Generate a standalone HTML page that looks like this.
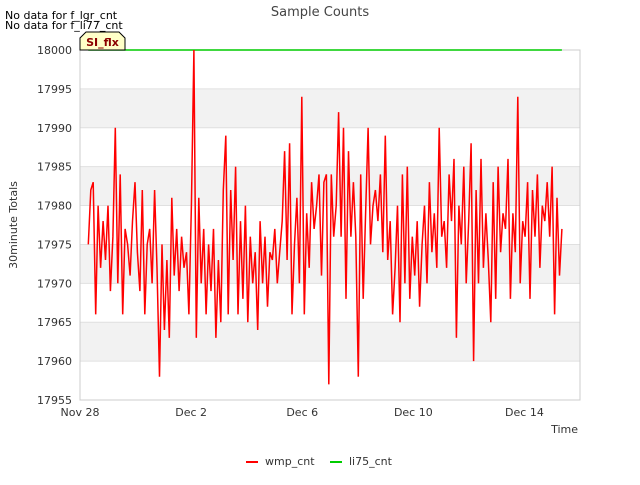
<!DOCTYPE html>
<html><head><meta charset="utf-8"><style>
body{margin:0;background:#fff;font-family:"Liberation Sans","DejaVu Sans",sans-serif}
svg text{font-family:"DejaVu Sans","Liberation Sans",sans-serif}
</style></head><body>
<svg id="chart" width="640" height="480" xmlns="http://www.w3.org/2000/svg">
<rect width="640" height="480" fill="#fff"/>
<g id="bands"></g>
<rect x="80" y="50" width="500" height="350" fill="none" stroke="#ccc"/>
<g id="yticks"></g><g id="xticks"></g>
<g id="series"></g>
<text x="320" y="16" text-anchor="middle" font-size="13" fill="#444">Sample Counts</text>
<text x="5" y="19" font-size="11" fill="#000">No data for f_lgr_cnt</text>
<text x="5" y="29" font-size="11" fill="#000">No data for f_li77_cnt</text>
<g>
<path d="M80,50 L80,38 L86,32 L119,32 L125,38 L125,50 Z" fill="#ffffc8" stroke="#000"/>
<text x="102.5" y="46" text-anchor="middle" font-size="11" font-weight="bold" fill="#8b0000">SI_flx</text>
</g>
<text x="17" y="225" transform="rotate(-90 17 225)" text-anchor="middle" font-size="11" fill="#333">30minute Totals</text>
<text x="578" y="433" text-anchor="end" font-size="11" fill="#333">Time</text>
<g>
<g><line x1="246" y1="462" x2="258" y2="462" stroke="#f00" stroke-width="2"/><text x="265" y="465" font-size="11" fill="#333">wmp_cnt</text></g>
<g><line x1="330" y1="462" x2="342" y2="462" stroke="#0c0" stroke-width="2"/><text x="349" y="465" font-size="11" fill="#333">li75_cnt</text></g>
</g>
</svg>
<script>
const yTicks=[17955,17960,17965,17970,17975,17980,17985,17990,17995,18000];
const xTickDays=[0,4,8,12,16];
const xTickLabels=["Nov 28","Dec 2","Dec 6","Dec 10","Dec 14"];
const startDay=0.3, endDay=17.35;
const wmp=[17975,17982,17983,17966,17980,17972,17978,17973,17980,17969,17976,17990,17970,17984,17966,17977,17975,17971,17978,17983,17974,17969,17982,17966,17975,17977,17970,17982,17972,17958,
17975,17964,17973,17963,17981,17971,17977,17969,17976,17972,17974,17966,17980,18000,17963,17981,17970,17977,17966,17975,17969,17977,17963,17973,17965,17982,17989,17966,17982,17973,
17985,17966,17978,17968,17980,17965,17976,17970,17974,17964,17978,17970,17976,17967,17974,17973,17977,17970,17974,17978,17987,17973,17988,17966,17975,17981,17970,17994,17966,17979,
17972,17983,17977,17980,17984,17971,17983,17984,17957,17984,17976,17980,17992,17976,17990,17968,17987,17976,17983,17976,17958,17984,17968,17979,17990,17975,17980,17982,17978,17984,
17974,17989,17973,17978,17966,17972,17980,17965,17984,17970,17985,17968,17976,17971,17978,17967,17975,17980,17970,17983,17974,17979,17972,17990,17976,17978,17972,17984,17978,17986,
17963,17980,17975,17985,17970,17978,17988,17960,17982,17970,17986,17972,17979,17973,17965,17983,17968,17985,17974,17979,17977,17986,17968,17979,17974,17994,17970,17978,17976,17983,
17968,17982,17976,17984,17972,17980,17978,17983,17976,17985,17966,17981,17971,17977];
const li75=[18000,18000,18000,18000];
const X0=80,X1=580,Y0=400,Y1=50;
const xs=d=>X0+(d/18)*(X1-X0);
const ys=v=>Y0-(v-17955)/45*(Y0-Y1);
const NS="http://www.w3.org/2000/svg";
function mk(t,a,p){const e=document.createElementNS(NS,t);for(const k in a)e.setAttribute(k,a[k]);p.appendChild(e);return e;}
const bands=document.getElementById('bands');
for(let i=0;i<yTicks.length-1;i++){
 if(i%2===1){const r=mk('rect',{x:X0,y:ys(yTicks[i+1]),width:X1-X0,height:ys(yTicks[i])-ys(yTicks[i+1]),fill:'#f2f2f2'},bands);
 
 }
 const l=mk('line',{x1:X0,x2:X1,y1:ys(yTicks[i]),y2:ys(yTicks[i]),stroke:'#e0e0e0'},bands);
 
 
}
const yg=document.getElementById('yticks');
yTicks.forEach(v=>{const t=mk('text',{x:72,y:ys(v)+4,'text-anchor':'end','font-size':11,fill:'#333'},yg);t.textContent=v;
 
 });
const xg=document.getElementById('xticks');
xTickDays.forEach((d,i)=>{const t=mk('text',{x:xs(d),y:416,'text-anchor':'middle','font-size':11,fill:'#333'},xg);t.textContent=xTickLabels[i];
 
 });
const sg=document.getElementById('series');
function line(arr,color,name){const n=arr.length;const pts=arr.map((v,i)=>xs(startDay+(endDay-startDay)*i/(n-1)).toFixed(1)+','+ys(v).toFixed(1)).join(' ');
 const p=mk('polyline',{points:pts,fill:'none',stroke:color,'stroke-width':1.5},sg);
 
 }
line(li75,'#00cc00','li75-cnt-line');
line(wmp,'#ff0000','wmp-cnt-line');
</script>
</body></html>
